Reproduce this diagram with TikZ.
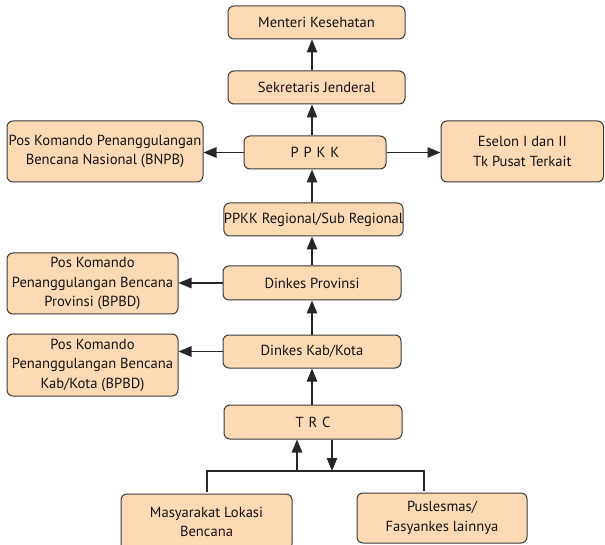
\documentclass[tikz,border=0pt]{standalone}
\usepackage{fontspec}
\setmainfont{PT Sans}
\usetikzlibrary{arrows.meta}
\definecolor{boxfill}{HTML}{FDDAB4}
\definecolor{boxline}{HTML}{3A3A3A}
\definecolor{txt}{HTML}{141213}
\begin{document}
\begin{tikzpicture}[x=1pt,y=-1pt,
  box/.style={draw=boxline, fill=boxfill, rounded corners=6pt, line width=1pt,
              inner sep=0pt, align=center, text=txt,
              font=\fontsize{14.6}{19.5}\selectfont},
  bx/.style 2 args={minimum width=#1pt, minimum height=#2pt},
  arr/.style={draw=black!85, line width=1.2pt, -{Triangle[length=13pt,width=10.5pt]}},
  ln/.style={draw=black!85, line width=1.2pt}]
\useasboundingbox (0,0) rectangle (605,545);

\coordinate (ax) at (312,0);

\node[box, bx={177}{33}] (men) at (316.5,22.5) {Menteri Kesehatan};
\node[box, bx={177}{33}] (sek) at (316.5,87.5) {Sekretaris Jenderal};
\node[box, bx={142}{33}] (ppkk) at (315,152.5) {P\,\,P\,\,K\,\,K};
\node[box, bx={196}{61}] (bnpb) at (105,151.5) {Pos Komando Penanggulangan\\Bencana Nasional (BNPB)};
\node[box, bx={162.5}{61}] (esel) at (522.25,151.5) {Eselon I dan II\\Tk Pusat Terkait};
\node[box, bx={177}{33}] (reg) at (313.5,219.5) {PPKK Regional/Sub Regional};
\node[box, bx={178}{34}] (dprov) at (312,283) {Dinkes Provinsi};
\node[box, bx={171}{61}] (bprov) at (92.5,283.5) {Pos Komando\\Penanggulangan Bencana\\Provinsi (BPBD)};
\node[box, bx={178}{33}] (dkab) at (312,351.5) {Dinkes Kab/Kota};
\node[box, bx={171}{62}] (bkab) at (92.5,365) {Pos Komando\\Penanggulangan Bencana\\Kab/Kota (BPBD)};
\node[box, bx={178}{34}] (trc) at (313,422) {T\,\,R\,\,C};
\node[box, bx={171}{56}] (masy) at (206.5,522) {Masyarakat Lokasi\\Bencana};
\node[box, bx={170}{50}] (pusk) at (442,518) {Puslesmas/\\Fasyankes lainnya};

% vertical chain
\draw[arr] (sek.north -| ax) -- (men.south -| ax);
\draw[arr] (ppkk.north -| ax) -- (sek.south -| ax);
\draw[arr] (reg.north -| ax) -- (ppkk.south -| ax);
\draw[arr] (dprov.north -| ax) -- (reg.south -| ax);
\draw[arr] (dkab.north -| ax) -- (dprov.south -| ax);
\draw[arr] (trc.north -| ax) -- (dkab.south -| ax);

% side arrows
\draw[arr] (ppkk.west) -- (bnpb.east |- ppkk.west);
\draw[arr] (ppkk.east) -- (esel.west |- ppkk.east);
\draw[arr] (dprov.west) -- (bprov.east |- dprov.west);
\draw[arr] (dkab.west) -- (bkab.east |- dkab.west);

% bottom
\coordinate (bl) at (207,471);
\coordinate (br) at (424,471);
\coordinate (upx) at (297,471);
\coordinate (dnx) at (332,471);
\draw[ln] ([yshift=2pt]masy.north -| bl) -- (bl) -- (br) -- ([yshift=2pt]pusk.north -| br);
\draw[arr] (upx) -- (trc.south -| upx);
\draw[arr] (trc.south -| dnx) -- (dnx);
\end{tikzpicture}
\end{document}
